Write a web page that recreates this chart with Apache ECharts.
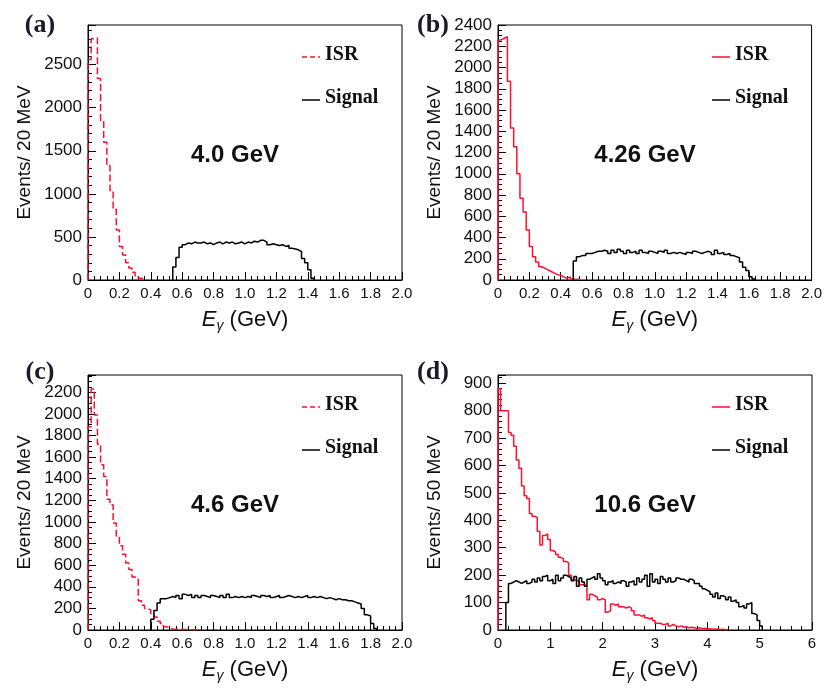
<!DOCTYPE html>
<html><head><meta charset="utf-8">
<script src="https://cdn.jsdelivr.net/npm/echarts@6/dist/echarts.min.js"></script>
<style>html,body{margin:0;padding:0;background:#fff}#c{width:825px;height:690px}</style>
</head><body><div id="c"></div>
<script>
// ---------------- data (bin contents) ----------------
// Panel (a) 4.0 GeV, 20 MeV bins
const binA = 0.02;
const isrA_start = 0.0;
const isrA = [2560,2800,2810,2340,1850,1600,1330,1040,820,580,390,290,200,140,90,50,20,5];
const sigA_start = 0.54;
const sigA = [150,260,380,410,430,420,440,430,430,440,420,430,410,430,440,420,440,430,440,420,430,440,420,440,430,450,440,460,460,440,410,420,410,400,410,390,400,370,360,350,330,250,200,120,20];

// Panel (b) 4.26 GeV
const binB = 0.02;
const isrB_start = 0.0;
const isrB = [2260,2275,2290,1870,1430,1255,1000,770,640,470,315,220,170,125,110,95,80,65,50,45,30,15,30,10,5,10];
const sigB_start = 0.48;
const sigB = [180,220,230,230,250,250,260,270,270,280,270,250,280,260,290,270,250,280,260,270,250,280,260,250,270,260,250,270,260,280,250,260,250,260,250,240,260,250,270,260,250,260,270,260,240,280,250,260,240,250,230,220,210,170,120,90,30,10];

// Panel (c) 4.6 GeV
const binC = 0.02;
const isrC_start = 0.0;
const isrC = [1880,2230,1990,1720,1530,1420,1210,1160,990,870,780,700,620,560,490,480,270,230,200,185,150,120,80,60,30,20,10,8,8,5,5,3,3,2,2];
const sigC_start = 0.40;
const sigC = [100,180,250,290,290,300,310,300,320,290,330,320,330,300,320,300,320,310,300,320,310,300,320,300,330,300,310,300,310,300,310,300,320,310,300,320,310,320,300,310,320,300,310,320,310,300,310,300,310,320,300,310,300,310,300,290,300,290,280,290,280,280,270,270,260,250,240,200,140,130,60,15];

// Panel (d) 10.6 GeV, 50 MeV bins
const binD = 0.05;
const isrD_start = 0.0;
const isrD = [880,800,800,800,720,710,670,620,590,525,490,480,425,415,410,360,310,345,350,330,290,285,275,265,260,250,245,200,185,180,180,165,165,160,110,130,125,120,110,115,110,65,70,95,90,95,85,85,80,85,80,70,55,55,50,55,45,40,45,35,25,25,20,20,25,15,20,15,12,15,10,12,8,10,8,6,8,5,6,4,5,3,4,3,2,3,1,1];
const sigD_start = 0.15;
const sigD = [100,170,175,180,175,170,175,180,170,175,185,175,190,180,195,200,180,185,170,200,180,190,200,195,190,180,195,160,190,175,160,185,190,195,185,205,190,180,165,175,180,170,175,170,180,175,160,175,180,165,190,175,185,200,160,205,175,185,170,195,185,175,190,175,180,190,185,185,180,175,185,180,170,170,160,150,145,140,130,120,135,115,125,120,110,120,105,110,100,85,90,80,95,100,60,55,35,15];

const energies = ['4.0 GeV','4.26 GeV','4.6 GeV','10.6 GeV'];
const panelTags = ['(a)','(b)','(c)','(d)'];
const yTitles = ['Events/ 20 MeV','Events/ 20 MeV','Events/ 20 MeV','Events/ 50 MeV'];

// ---------------- helpers ----------------
function hist(start, w, vals) {
  const pts = [[start, 0]];
  for (let k = 0; k < vals.length; k++) pts.push([+(start + k * w).toFixed(4), vals[k]]);
  pts.push([+(start + vals.length * w).toFixed(4), 0]);
  return pts;
}

const panels = [
  {left: 88, top: 25, xmax: 2, xint: 0.2, xminor: 5, ymax: 2960, yint: 500, yminor: 5, showMax: false,
   isr: hist(isrA_start, binA, isrA), sig: hist(sigA_start, binA, sigA), dashed: true},
  {left: 498, top: 25, xmax: 2, xint: 0.2, xminor: 5, ymax: 2400, yint: 200, yminor: 4, showMax: true,
   isr: hist(isrB_start, binB, isrB), sig: hist(sigB_start, binB, sigB), dashed: false},
  {left: 88, top: 375, xmax: 2, xint: 0.2, xminor: 5, ymax: 2360, yint: 200, yminor: 4, showMax: false,
   isr: hist(isrC_start, binC, isrC), sig: hist(sigC_start, binC, sigC), dashed: true},
  {left: 498, top: 375, xmax: 6, xint: 1, xminor: 5, ymax: 930, yint: 100, yminor: 5, showMax: false,
   isr: hist(isrD_start, binD, isrD), sig: hist(sigD_start, binD, sigD), dashed: false}
];

const W = 314, H = 255;
const RED = '#ff1030';
const grid = [], xAxis = [], yAxis = [], series = [], graphic = [];

panels.forEach((p, i) => {
  grid.push({left: p.left, top: p.top, width: W, height: H, show: true, borderColor: '#000', borderWidth: 1, backgroundColor: '#fff'});
  xAxis.push({
    type: 'value', gridIndex: i, min: 0, max: p.xmax, interval: p.xint,
    axisLine: {lineStyle: {color: '#000', width: 1}},
    axisTick: {inside: true, length: 8, lineStyle: {color: '#000'}},
    minorTick: {show: true, splitNumber: p.xminor, length: 4, lineStyle: {color: '#000'}},
    splitLine: {show: false},
    axisLabel: {color: '#111', fontFamily: 'Liberation Sans, Arial', fontSize: 15, margin: 6,
      formatter: v => (p.xmax > 2 ? String(Math.round(v)) : (v === 0 ? '0' : v.toFixed(1)))},
    name: '{e|E}{g|γ} (GeV)', nameLocation: 'middle', nameGap: 27,
    nameTextStyle: {fontFamily: 'Liberation Sans, Arial', fontSize: 22, color: '#111',
      rich: {e: {fontStyle: 'italic', fontSize: 22, fontFamily: 'Liberation Sans, Arial', color: '#111'},
             g: {fontStyle: 'italic', fontSize: 14, fontFamily: 'Liberation Sans, Arial', color: '#111', padding: [12, 0, 0, 0]}}}
  });
  yAxis.push({
    type: 'value', gridIndex: i, min: 0, max: p.ymax, interval: p.yint,
    axisLine: {lineStyle: {color: '#000', width: 1}},
    axisTick: {inside: true, length: 8, lineStyle: {color: '#000'}},
    minorTick: {show: true, splitNumber: p.yminor, length: 4, lineStyle: {color: '#000'}},
    splitLine: {show: false},
    axisLabel: {color: '#111', fontFamily: 'Liberation Sans, Arial', fontSize: 17, margin: 6, showMaxLabel: p.showMax,
      formatter: v => (v % p.yint === 0 ? String(v) : '')},
    name: yTitles[i], nameLocation: 'middle', nameGap: 54,
    nameTextStyle: {fontFamily: 'Liberation Sans, Arial', fontSize: 19, color: '#111'}
  });
  series.push({
    name: 'ISR', type: 'line', xAxisIndex: i, yAxisIndex: i, step: 'end', symbol: 'none',
    data: p.isr, lineStyle: {color: RED, width: 1.5, type: p.dashed ? [7, 3] : 'solid'}, z: 3, silent: true
  });
  series.push({
    name: 'Signal', type: 'line', xAxisIndex: i, yAxisIndex: i, step: 'end', symbol: 'none',
    data: p.sig, lineStyle: {color: '#000', width: 1.5}, z: 4, silent: true
  });

  // legend-like keys, energy label, panel tag
  const lx = p.left + 214, ly1 = p.top + 32, ly2 = p.top + 75;
  graphic.push({type: 'line', shape: {x1: lx, y1: ly1, x2: lx + 18, y2: ly1},
    style: {stroke: RED, lineWidth: 1.5, lineDash: p.dashed ? [5, 3] : null}});
  graphic.push({type: 'text', left: lx + 23, top: ly1 - 12,
    style: {text: 'ISR', font: 'bold 20px "Liberation Serif", "Times New Roman", serif', fill: '#111'}});
  graphic.push({type: 'line', shape: {x1: lx, y1: ly2, x2: lx + 18, y2: ly2}, style: {stroke: '#000', lineWidth: 1.5}});
  graphic.push({type: 'text', left: lx + 23, top: ly2 - 12,
    style: {text: 'Signal', font: 'bold 20px "Liberation Serif", "Times New Roman", serif', fill: '#111'}});
  graphic.push({type: 'text', x: p.left + 147, y: p.top + 130,
    style: {text: energies[i], font: 'bold 24px "Liberation Sans", Arial, sans-serif', fill: '#111', align: 'center', verticalAlign: 'middle'}});
});

graphic.push({type: 'text', x: 40, y: 25, style: {text: panelTags[0], font: 'bold 26px "Liberation Serif", serif', fill: '#1a1a2a', align: 'center', verticalAlign: 'middle'}});
graphic.push({type: 'text', x: 433, y: 25, style: {text: panelTags[1], font: 'bold 26px "Liberation Serif", serif', fill: '#1a1a2a', align: 'center', verticalAlign: 'middle'}});
graphic.push({type: 'text', x: 40, y: 372, style: {text: panelTags[2], font: 'bold 26px "Liberation Serif", serif', fill: '#1a1a2a', align: 'center', verticalAlign: 'middle'}});
graphic.push({type: 'text', x: 433, y: 372, style: {text: panelTags[3], font: 'bold 26px "Liberation Serif", serif', fill: '#1a1a2a', align: 'center', verticalAlign: 'middle'}});

const chart = echarts.init(document.getElementById('c'), null, {renderer: 'canvas'});
chart.setOption({animation: false, backgroundColor: '#fff', grid, xAxis, yAxis, series, graphic});
</script>
</body></html>
